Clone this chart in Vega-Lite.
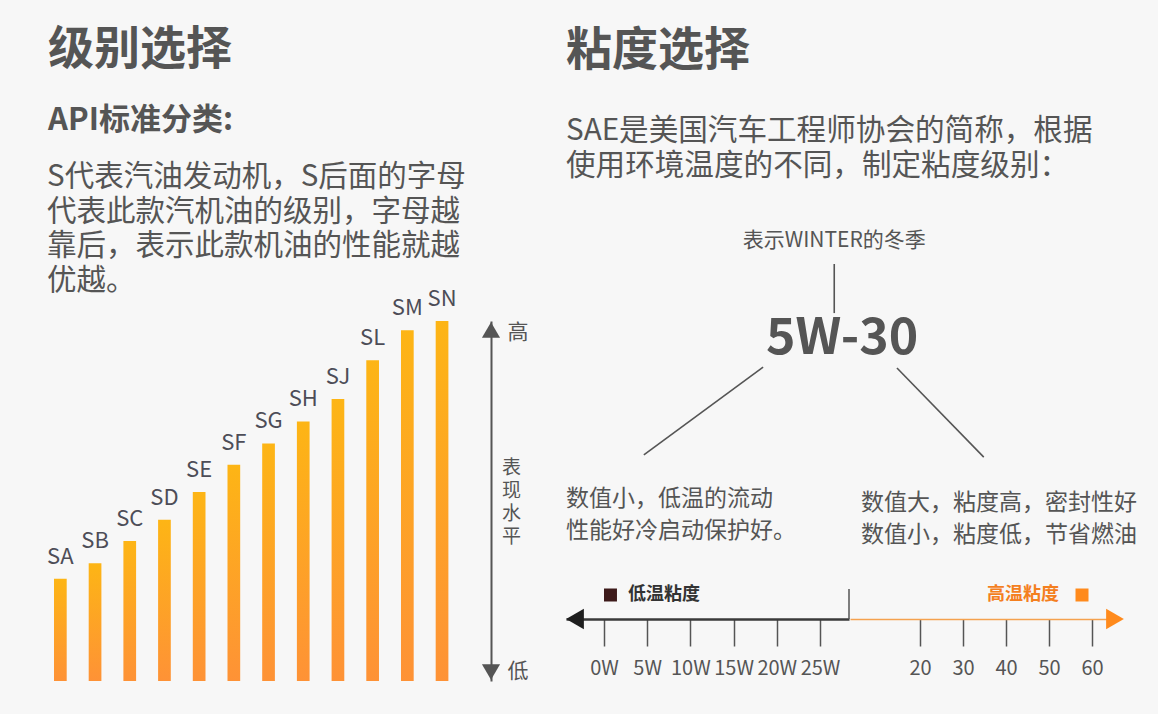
{
  "$schema": "https://vega.github.io/schema/vega-lite/v6.json",
  "background": "#f7f7f7",
  "padding": {"left": 47, "top": 27, "right": 20, "bottom": 33},
  "config": {
    "font": "Noto Sans CJK SC",
    "view": {"stroke": null},
    "title": {"anchor": "start", "color": "#555555", "fontWeight": "bold", "fontSize": 46, "subtitleColor": "#555555"}
  },
  "spacing": 38,
  "hconcat": [
    {
      "title": {"text": "级别选择", "subtitle": "API标准分类:", "subtitleFontSize": 31, "subtitleFontWeight": "bold", "subtitlePadding": 32, "offset": 25, "dx": 1},
      "vconcat": [
        {
          "title": {"text": ["S代表汽油发动机，S后面的字母", "代表此款汽机油的级别，字母越", "靠后，表示此款机油的性能就越", "优越。"], "fontSize": 29.5, "fontWeight": "normal", "lineHeight": 34.5, "offset": -8},
          "width": 437,
          "height": 360,
          "data": {"values": [
            {"grade": "SA", "level": 28.4},
            {"grade": "SB", "level": 32.7},
            {"grade": "SC", "level": 38.9},
            {"grade": "SD", "level": 44.8},
            {"grade": "SE", "level": 52.5},
            {"grade": "SF", "level": 60.1},
            {"grade": "SG", "level": 66.0},
            {"grade": "SH", "level": 72.1},
            {"grade": "SJ", "level": 78.3},
            {"grade": "SL", "level": 89.1},
            {"grade": "SM", "level": 97.4},
            {"grade": "SN", "level": 100}
          ]},
          "layer": [
            {
              "mark": {"type": "bar", "color": {"gradient": "linear", "x1": 0, "y1": 0, "x2": 0, "y2": 1, "stops": [{"offset": 0, "color": "#fdb515"}, {"offset": 1, "color": "#fe9236"}]}},
              "encoding": {
                "x": {"field": "grade", "type": "nominal", "sort": null, "scale": {"type": "band", "paddingInner": 0.634, "paddingOuter": 0.614, "align": 0}, "axis": null},
                "y": {"field": "level", "type": "quantitative", "scale": {"domain": [0, 100], "nice": false},
                  "axis": {"orient": "right", "values": [0, 100], "labelExpr": "datum.value == 100 ? '高' : '低'", "labelFlush": true, "labelFontSize": 21, "labelColor": "#555555", "labelPadding": 16, "ticks": false, "grid": false, "domain": true, "domainColor": "#555555", "domainWidth": 2,
                    "title": ["表", "现", "水", "平"], "titleAngle": 0, "titleFontSize": 19, "titleFontWeight": "normal", "titleColor": "#555555", "titleLineHeight": 23, "titleX": 20, "titleY": 146, "titleAlign": "center", "titleBaseline": "middle"}}
              }
            },
            {
              "mark": {"type": "text", "baseline": "bottom", "dy": -10, "fontSize": 22, "color": "#4d4d57"},
              "encoding": {
                "x": {"field": "grade", "type": "nominal", "sort": null},
                "y": {"field": "level", "type": "quantitative"},
                "text": {"field": "grade"}
              }
            },
            {
              "data": {"values": [{"end": "高", "level": 100}]},
              "mark": {"type": "point", "shape": "triangle-up", "filled": true, "opacity": 1, "color": "#555555", "size": 330, "yOffset": 9},
              "encoding": {"x": {"value": "width"}, "y": {"field": "level", "type": "quantitative"}}
            },
            {
              "data": {"values": [{"end": "低", "level": 0}]},
              "mark": {"type": "point", "shape": "triangle-down", "filled": true, "opacity": 1, "color": "#555555", "size": 330, "yOffset": -9},
              "encoding": {"x": {"value": "width"}, "y": {"field": "level", "type": "quantitative"}}
            }
          ]
        }
      ]
    },
    {
      "title": {"text": "粘度选择", "subtitle": ["SAE是美国汽车工程师协会的简称，根据", "使用环境温度的不同，制定粘度级别："], "subtitleFontSize": 29.6, "subtitleFontWeight": "normal", "subtitleLineHeight": 35, "subtitlePadding": 42, "offset": 48},
      "spacing": 25,
      "vconcat": [
        {
          "width": 560,
          "height": 240,
          "layer": [
            {
              "data": {"values": [{"part": "冬季标记", "text": "表示WINTER的冬季", "x": 47.9, "y": -33.3}]},
              "mark": {"type": "text", "fontSize": 21, "color": "#555555", "align": "center", "baseline": "middle"},
              "encoding": {
                "x": {"field": "x", "type": "quantitative", "scale": {"domain": [0, 100]}, "axis": null},
                "y": {"field": "y", "type": "quantitative", "scale": {"domain": [0, 100], "reverse": true}, "axis": null},
                "text": {"field": "text"}
              }
            },
            {
              "data": {"values": [{"part": "粘度标号", "text": "5W-30", "x": 49.3, "y": 7.5}]},
              "mark": {"type": "text", "fontSize": 50, "fontWeight": "bold", "color": "#555555", "align": "center", "baseline": "middle"},
              "encoding": {
                "x": {"field": "x", "type": "quantitative", "scale": {"domain": [0, 100]}, "axis": null},
                "y": {"field": "y", "type": "quantitative", "scale": {"domain": [0, 100], "reverse": true}, "axis": null},
                "text": {"field": "text"}
              }
            },
            {
              "data": {"values": [
                {"part": "W前数字", "text": "数值小，低温的流动\n性能好冷启动保护好。", "x": 0, "y": 74.0},
                {"part": "W后数字", "text": "数值大，粘度高，密封性好\n数值小，粘度低，节省燃油", "x": 52.7, "y": 76.0}
              ]},
              "mark": {"type": "text", "fontSize": 23, "color": "#555555", "align": "left", "baseline": "middle", "lineBreak": "\n", "lineHeight": 32},
              "encoding": {
                "x": {"field": "x", "type": "quantitative", "scale": {"domain": [0, 100]}, "axis": null},
                "y": {"field": "y", "type": "quantitative", "scale": {"domain": [0, 100], "reverse": true}, "axis": null},
                "text": {"field": "text"}
              }
            },
            {
              "data": {"values": [
                {"link": "冬季", "x": 47.9, "y": -23.75, "x2": 47.9, "y2": -3.3},
                {"link": "低温", "x": 35.2, "y": 19.2, "x2": 13.9, "y2": 55.8},
                {"link": "高温", "x": 59.1, "y": 19.6, "x2": 74.6, "y2": 56.7}
              ]},
              "mark": {"type": "rule", "color": "#555555", "strokeWidth": 1.6},
              "encoding": {
                "x": {"field": "x", "type": "quantitative", "scale": {"domain": [0, 100]}, "axis": null},
                "y": {"field": "y", "type": "quantitative", "scale": {"domain": [0, 100], "reverse": true}, "axis": null},
                "x2": {"field": "x2"},
                "y2": {"field": "y2"}
              }
            }
          ]
        },
        {
          "spacing": 0,
          "hconcat": [
            {
              "width": 283,
              "height": 30,
              "data": {"values": [{"grade": "0W"}, {"grade": "5W"}, {"grade": "10W"}, {"grade": "15W"}, {"grade": "20W"}, {"grade": "25W"}]},
              "encoding": {
                "x": {"field": "grade", "type": "ordinal", "sort": null, "scale": {"type": "point", "padding": 0.775, "align": 0.567},
                  "axis": {"orient": "bottom", "title": null, "grid": false, "domain": true, "domainColor": "#3a3a3a", "domainWidth": 2.5, "ticks": true, "tickColor": "#555555", "tickWidth": 1.5, "tickSize": 27, "labelFontSize": 20, "labelColor": "#555555", "labelPadding": 12, "labelAngle": 0}}
              },
              "layer": [
                {"mark": {"type": "point", "opacity": 0}},
                {
                  "data": {"values": [{"label": "低温粘度"}]},
                  "mark": {"type": "point", "shape": "square", "filled": true, "opacity": 1, "color": "#3d1a1a", "size": 169, "xOffset": 6.5, "yOffset": -9},
                  "encoding": {"x": {"datum": "0W"}}
                },
                {
                  "data": {"values": [{"label": "低温粘度"}]},
                  "mark": {"type": "text", "align": "left", "baseline": "middle", "dx": 24, "dy": -9, "fontSize": 18, "fontWeight": "bold", "color": "#333333"},
                  "encoding": {"x": {"datum": "0W"}, "text": {"field": "label"}}
                },
                {
                  "data": {"values": [{"label": "分界"}]},
                  "mark": {"type": "rule", "color": "#555555", "strokeWidth": 1.5},
                  "encoding": {"x": {"value": "width"}}
                },
                {
                  "data": {"values": [{"label": "箭头"}]},
                  "mark": {"type": "point", "shape": "triangle-left", "filled": true, "opacity": 1, "color": "#1e1e1e", "size": 420, "xOffset": 9},
                  "encoding": {"x": {"value": 0}, "y": {"value": "height"}}
                }
              ]
            },
            {
              "width": 258,
              "height": 30,
              "data": {"values": [{"grade": "20"}, {"grade": "30"}, {"grade": "40"}, {"grade": "50"}, {"grade": "60"}]},
              "encoding": {
                "x": {"field": "grade", "type": "ordinal", "sort": null, "scale": {"type": "point", "padding": 1, "align": 0.814},
                  "axis": {"orient": "bottom", "title": null, "grid": false, "domain": true, "domainColor": "#f5a24f", "domainWidth": 1.5, "ticks": true, "tickColor": "#555555", "tickWidth": 1.5, "tickSize": 27, "labelFontSize": 20, "labelColor": "#555555", "labelPadding": 12, "labelAngle": 0}}
              },
              "layer": [
                {"mark": {"type": "point", "opacity": 0}},
                {
                  "data": {"values": [{"label": "高温粘度"}]},
                  "mark": {"type": "point", "shape": "square", "filled": true, "opacity": 1, "color": "#ff8a1c", "size": 169, "xOffset": -10, "yOffset": -9},
                  "encoding": {"x": {"datum": "60"}}
                },
                {
                  "data": {"values": [{"label": "高温粘度"}]},
                  "mark": {"type": "text", "align": "right", "baseline": "middle", "dx": -33, "dy": -9, "fontSize": 18, "fontWeight": "bold", "color": "#f47f1f"},
                  "encoding": {"x": {"datum": "60"}, "text": {"field": "label"}}
                },
                {
                  "data": {"values": [{"label": "箭头"}]},
                  "mark": {"type": "point", "shape": "triangle-right", "filled": true, "opacity": 1, "color": "#ff8a1c", "size": 420, "xOffset": 7},
                  "encoding": {"x": {"value": "width"}, "y": {"value": "height"}}
                }
              ]
            }
          ]
        }
      ]
    }
  ]
}
